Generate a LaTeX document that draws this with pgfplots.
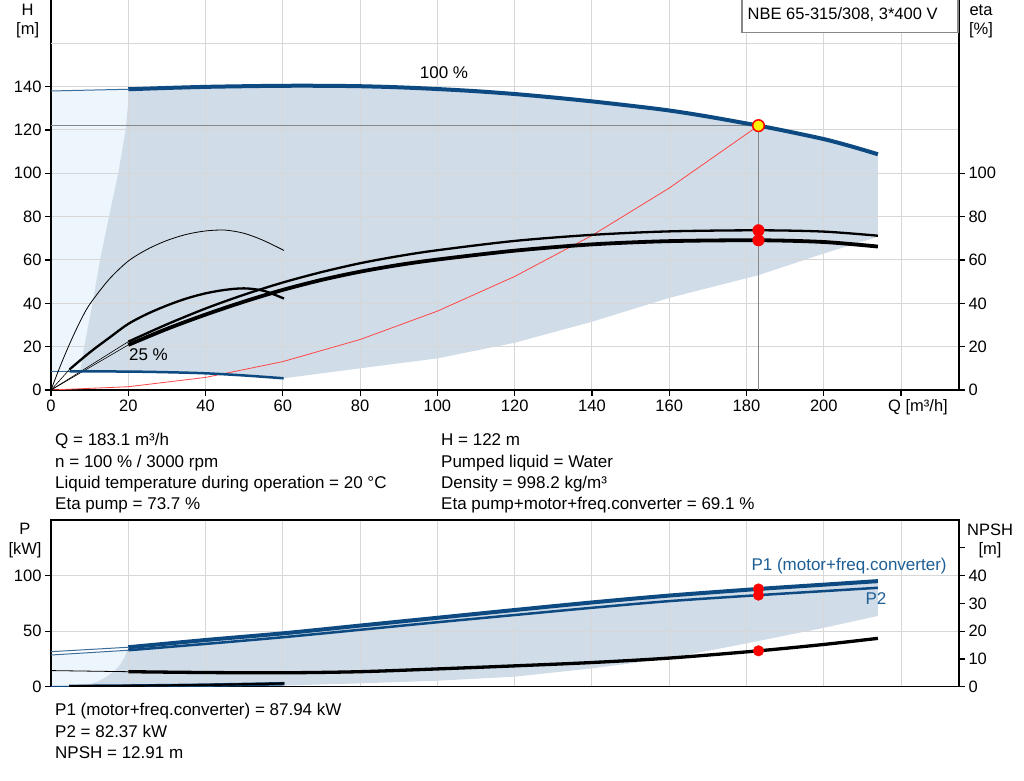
\documentclass[border=0pt]{standalone}
\usepackage{fontspec}
\setmainfont{Liberation Sans}
\usepackage{pgfplots}
\pgfplotsset{compat=1.18}
\definecolor{hblue}{RGB}{14,74,130}
\definecolor{tblue}{RGB}{30,95,150}
\definecolor{gfill}{RGB}{208,220,231}
\definecolor{lblue}{RGB}{238,246,253}
\definecolor{gridc}{RGB}{215,215,215}
\definecolor{refgray}{RGB}{135,135,135}
\definecolor{redl}{RGB}{255,70,70}
\newcommand\f{\fontsize{16.5bp}{20bp}\selectfont}
\newcommand\g{\fontsize{17bp}{20bp}\selectfont}
\pgfplotsset{
  base/.style={scale only axis, width=908bp, xmin=0, xmax=235,
    tick label style={font=\f}, /pgf/number format/assume math mode=true,
    tick align=outside, major tick length=6bp,
    tick style={black, line width=1.2bp},
    axis line style={black, line width=1.5bp},
    grid style={gridc, line width=1bp}},
  top/.style={base, at={(51bp,391bp)}, anchor=south west, height=390bp, ymin=0, ymax=180},
  bot/.style={base, at={(51bp,94.3bp)}, anchor=south west, height=166.7bp},
}
\begin{document}
\begin{tikzpicture}[x=1bp,y=1bp]
\useasboundingbox (0,0) rectangle (1024,781);
\fill[white] (0,0) rectangle (1024,781);
% ---------- top: fills
\begin{axis}[top, hide axis]
\addplot[fill=lblue, draw=none] coordinates {(0,8.6)(0,138)(20,138.8)(20,8.5)} -- cycle;
\addplot[fill=gfill, draw=none] coordinates {(7.5,8.5)(8.6,20)(10.9,41.5)(12.7,60)(15,80)(17.4,100)(19.3,120)(20.3,138.8)
 (30,139.4)(40,139.9)(50,140.2)(60,140.4)(70,140.4)(80,140.2)(90,139.7)(100,138.9)(110,137.9)(120,136.6)(130,135)(140,133.2)(150,131.2)(160,129)(170,126.2)(183.1,122)(190,119.6)(200,115.8)(207,112.5)(214,108.8)
 (214,70.7)(200,63)(183.1,53)(160,42.5)(140,31.5)(120,21.8)(100,14.6)(80,10)(60.2,5.4)(50,6.7)(40,7.7)(30,8.2)(20,8.5)} -- cycle;
\end{axis}
% ---------- top: main
\begin{axis}[top,
  axis x line*=bottom, axis y line*=left,
  xtick={0,20,...,220}, xticklabels={0,20,40,60,80,100,120,140,160,180,200,{}},
  ytick={0,20,...,140},
  extra y ticks={160,180}, extra y tick labels={}, extra y tick style={major tick length=0pt},
  grid=major]
\addplot[refgray, line width=1.6bp] coordinates {(0,122)(183.1,122)};
\addplot[refgray, line width=1.4bp] coordinates {(183.1,122)(183.1,0)};
\addplot[redl, line width=0.8bp] coordinates {(0,0)(20,1.5)(40,5.8)(60,13.1)(80,23.3)(100,36.4)(120,52.4)(140,71.3)(160,93.2)(183.1,122)};
% thin extensions
\addplot[hblue!80, line width=1bp] coordinates {(0,138)(20,138.8)};
\addplot[hblue!80, line width=1bp] coordinates {(0,8.6)(4.8,8.6)};
\addplot[black, line width=0.6bp] coordinates {(0,0)(4.8,9.5)};
\addplot[black, line width=0.6bp] coordinates {(0,0)(20,22.3)};
\addplot[black, line width=0.6bp] coordinates {(0,0)(20,20.8)};
\addplot[black, line width=0.8bp, smooth] coordinates {(0,0)(2.5,11.5)(5,22)(7.5,31.5)(10,39.5)(15,51)(20,59.5)(25,65)(30,69)(35,71.8)(40,73.4)(45,73.8)(50,72.3)(55,69)(60.3,64.4)};
% 25% curves
\addplot[hblue, line width=2.5bp, smooth] coordinates {(4.8,8.6)(20,8.5)(30,8.2)(40,7.7)(50,6.7)(60.2,5.4)};
\addplot[black, line width=2.3bp, smooth] coordinates {(4.8,9.5)(10,17.3)(15,24)(20,30.5)(25,35.2)(30,39)(35,42.2)(40,44.6)(45,46.2)(50,46.9)(55,45.8)(60.3,42.2)};
% 100% curves
\addplot[black, line width=2.3bp, smooth] coordinates {(20,22.3)(30,30.3)(40,37.6)(50,44)(60,49.6)(70,54.4)(80,58.5)(90,61.8)(100,64.5)(120,68.8)(140,71.6)(160,73.2)(183.1,73.7)(200,73.1)(214,71.2)};
\addplot[black, line width=3.8bp, smooth] coordinates {(20,20.8)(30,28.2)(40,34.8)(50,40.8)(60,46.2)(70,50.8)(80,54.6)(90,57.7)(100,60.2)(120,64.3)(140,67.2)(160,68.7)(183.1,69.1)(200,68.3)(214,66.2)};
\addplot[hblue, line width=4bp, smooth] coordinates {(20,138.8)(30,139.4)(40,139.9)(50,140.2)(60,140.4)(70,140.4)(80,140.2)(90,139.7)(100,138.9)(110,137.9)(120,136.6)(130,135)(140,133.2)(150,131.2)(160,129)(170,126.2)(183.1,122)(190,119.6)(200,115.8)(207,112.5)(214,108.8)};
\addplot[only marks, mark=*, mark size=5.8bp, red] coordinates {(183.1,73.7)(183.1,69.1)};
\addplot[only marks, mark=*, mark size=5.8bp, mark options={fill=yellow, draw=red, line width=1.5bp}] coordinates {(183.1,122)};
\end{axis}
% ---------- top: right axis
\begin{axis}[top, axis x line=none, axis y line*=right, ytick={0,20,...,100}]
\end{axis}
% ---------- bottom: fills
\begin{axis}[bot, ymin=0, ymax=150, hide axis]
\addplot[fill=lblue, draw=none] coordinates {(0,0)(0,28.5)(20,32.8)(20,0)} -- cycle;
\addplot[fill=gfill, draw=none] coordinates {(5.8,0)(8,1)(10,2.5)(12,4.5)(14.4,9)(16.5,14.5)(17.9,20)(19,26)(20,35.5)
 (40,42)(60,48)(80,55)(100,62)(120,69)(140,75.8)(160,82)(183.1,87.94)(200,91.8)(214,95)
 (214,63.7)(200,53)(180,39)(160,25.5)(140,16.5)(120,9)(100,5.4)(80,3)(60,1)(40,0)} -- cycle;
\end{axis}
% ---------- bottom: main
\begin{axis}[bot, ymin=0, ymax=150,
  xtick={0,20,...,220}, xticklabels={}, major x tick style={draw=none},
  ytick={0,50,100}, ytick pos=left,
  grid=major]
\addplot[hblue!80, line width=1bp] coordinates {(0,31.5)(20,35.5)};
\addplot[hblue!80, line width=1bp] coordinates {(0,28.5)(20,32.8)};
\addplot[hblue, line width=1bp] coordinates {(0,0.2)(4.7,0.3)};
\addplot[hblue, line width=3.5bp, smooth] coordinates {(4.7,0.3)(20,0.6)(40,1.4)(60.4,2.7)};
\addplot[black, line width=2.2bp, smooth] coordinates {(4.7,0.5)(20,0.8)(40,1.6)(60.4,2.9)};
\addplot[hblue, line width=2.5bp, smooth] coordinates {(20,32.8)(40,38.5)(60,44.5)(80,51.2)(100,58)(120,64.5)(140,71)(160,77)(183.1,82.37)(200,86)(214,89)};
\addplot[hblue, line width=4bp, smooth] coordinates {(20,35.5)(40,42)(60,48)(80,55)(100,62)(120,69)(140,75.8)(160,82)(183.1,87.94)(200,91.8)(214,95)};
\addplot[only marks, mark=*, mark size=5.3bp, red] coordinates {(183.1,87.94)(183.1,82.37)};
\end{axis}
% ---------- bottom: NPSH axis
\begin{axis}[bot, ymin=0, ymax=60,
  axis x line=none, axis y line*=right, ytick={0,10,...,50}, yticklabels={0,10,20,30,40,{}}]
\addplot[black, line width=0.8bp] coordinates {(0,5.8)(20,5.4)};
\addplot[black, line width=3.3bp, smooth] coordinates {(20,5.4)(40,5.1)(60,5.0)(80,5.4)(100,6.4)(120,7.5)(140,8.7)(160,10.3)(183.1,12.91)(200,15.2)(214,17.4)};
\addplot[only marks, mark=*, mark size=5.3bp, red] coordinates {(183.1,12.91)};
\end{axis}
% ---------- texts
\node[font=\f] at (27.7,771) {H};
\node[font=\f] at (27.7,751) {[m]};
\node[font=\f] at (981,771) {eta};
\node[font=\f] at (981,751) {[\%]};
\draw[refgray, fill=white, line width=1.2bp] (742,748.3) rectangle (958,784);
\node[font=\f, anchor=west, inner sep=0] at (747.5,766.5) {NBE 65-315/308, 3*400 V};
\node[font=\g] at (444,708) {100 \%};
\node[font=\g] at (148.5,426) {25 \%};
\node[font=\f, anchor=west, inner sep=0] at (888,373.5) {Q [m³/h]};
\begin{scope}[every node/.style={font=\g, anchor=base west, inner sep=0}]
\node at (55,335.3) {Q = 183.1 m³/h};
\node at (55,313.9) {n = 100 \% / 3000 rpm};
\node at (55,292.5) {Liquid temperature during operation = 20 °C};
\node at (55,271.1) {Eta pump = 73.7 \%};
\node at (441,335.3) {H = 122 m};
\node at (441,313.9) {Pumped liquid = Water};
\node at (441,292.5) {Density = 998.2 kg/m³};
\node at (441,271.1) {Eta pump+motor+freq.converter = 69.1 \%};
\node at (55,65) {P1 (motor+freq.converter) = 87.94 kW};
\node at (55,43.6) {P2 = 82.37 kW};
\node at (55,22.2) {NPSH = 12.91 m};
\end{scope}
\node[font=\f] at (25,252) {P};
\node[font=\f] at (25,231) {[kW]};
\node[font=\f] at (990,251) {NPSH};
\node[font=\f] at (990,231) {[m]};
\node[font=\g, anchor=west, inner sep=0, text=tblue] at (751.3,215.3) {P1 (motor+freq.converter)};
\node[font=\g, anchor=west, inner sep=0, text=tblue] at (865.3,182.7) {P2};
\end{tikzpicture}
\end{document}
